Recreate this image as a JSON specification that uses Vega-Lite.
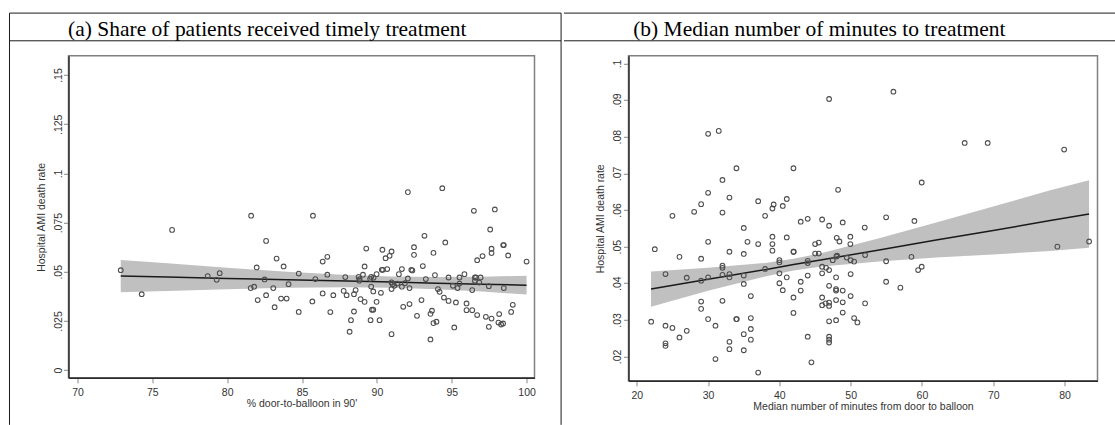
{
  "$schema": "https://vega.github.io/schema/vega-lite/v6.json",
  "background": "white",
  "padding": {"left": 7.5, "top": 11.8, "right": 0, "bottom": 0},
  "spacing": 0,
  "datasets": {
    "ptsA": [
      {"x":72.89,"y":0.0508},{"x":74.29,"y":0.0386},{"x":76.32,"y":0.0713},{"x":78.70,"y":0.0478},{"x":79.30,"y":0.0459},
      {"x":79.50,"y":0.0493},{"x":81.57,"y":0.0417},{"x":81.80,"y":0.0424},{"x":81.60,"y":0.0785},{"x":81.97,"y":0.0522},
      {"x":82.04,"y":0.0356},{"x":82.50,"y":0.0461},{"x":82.60,"y":0.0381},{"x":82.60,"y":0.0657},{"x":83.08,"y":0.0417},
      {"x":83.17,"y":0.0320},{"x":83.30,"y":0.0567},{"x":83.77,"y":0.0527},{"x":83.60,"y":0.0364},{"x":83.97,"y":0.0364},
      {"x":84.10,"y":0.0437},{"x":84.78,"y":0.0491},{"x":84.78,"y":0.0296},{"x":85.69,"y":0.0349},{"x":85.73,"y":0.0785},
      {"x":85.89,"y":0.0463},{"x":86.38,"y":0.0552},{"x":86.69,"y":0.0576},{"x":86.38,"y":0.0390},{"x":86.69,"y":0.0485},
      {"x":86.89,"y":0.0295},{"x":87.09,"y":0.0381},{"x":87.78,"y":0.0403},{"x":87.89,"y":0.0473},{"x":87.98,"y":0.0381},
      {"x":88.47,"y":0.0386},{"x":88.58,"y":0.0407},{"x":88.47,"y":0.0298},{"x":88.27,"y":0.0254},{"x":88.18,"y":0.0195},
      {"x":88.78,"y":0.0474},{"x":88.85,"y":0.0462},{"x":88.82,"y":0.0455},{"x":89.07,"y":0.0485},{"x":89.18,"y":0.0527},
      {"x":89.29,"y":0.0618},{"x":88.91,"y":0.0361},{"x":89.18,"y":0.0347},{"x":89.62,"y":0.0474},{"x":89.55,"y":0.0464},
      {"x":89.78,"y":0.0470},{"x":89.62,"y":0.0425},{"x":89.76,"y":0.0400},{"x":89.67,"y":0.0307},{"x":89.76,"y":0.0307},
      {"x":89.58,"y":0.0254},{"x":89.98,"y":0.0488},{"x":89.98,"y":0.0347},{"x":90.18,"y":0.0254},{"x":90.27,"y":0.0393},
      {"x":90.37,"y":0.0612},{"x":90.33,"y":0.0510},{"x":90.40,"y":0.0510},{"x":90.58,"y":0.0569},{"x":90.69,"y":0.0514},
      {"x":90.85,"y":0.0581},{"x":90.98,"y":0.0603},{"x":90.98,"y":0.0446},{"x":91.05,"y":0.0437},{"x":90.98,"y":0.0412},
      {"x":91.16,"y":0.0429},{"x":90.98,"y":0.0183},{"x":91.36,"y":0.0440},{"x":91.47,"y":0.0488},{"x":91.67,"y":0.0514},
      {"x":91.67,"y":0.0424},{"x":91.76,"y":0.0322},{"x":91.87,"y":0.0442},{"x":92.07,"y":0.0466},{"x":92.07,"y":0.0905},
      {"x":92.18,"y":0.0417},{"x":92.18,"y":0.0336},{"x":92.30,"y":0.0510},{"x":92.37,"y":0.0507},{"x":92.48,"y":0.0586},
      {"x":92.48,"y":0.0625},{"x":92.68,"y":0.0276},{"x":92.98,"y":0.0356},{"x":93.07,"y":0.0529},{"x":93.18,"y":0.0683},
      {"x":93.27,"y":0.0463},{"x":93.58,"y":0.0286},{"x":93.68,"y":0.0302},{"x":93.58,"y":0.0156},{"x":93.78,"y":0.0596},
      {"x":93.88,"y":0.0483},{"x":93.78,"y":0.0239},{"x":93.98,"y":0.0246},{"x":94.08,"y":0.0412},{"x":94.19,"y":0.0398},
      {"x":94.37,"y":0.0925},{"x":94.57,"y":0.0649},{"x":94.48,"y":0.0369},{"x":94.79,"y":0.0471},{"x":94.79,"y":0.0352},
      {"x":95.08,"y":0.0429},{"x":95.28,"y":0.0344},{"x":95.17,"y":0.0217},{"x":95.39,"y":0.0417},{"x":95.52,"y":0.0471},
      {"x":95.52,"y":0.0440},{"x":95.85,"y":0.0488},{"x":95.99,"y":0.0339},{"x":95.99,"y":0.0305},{"x":96.37,"y":0.0407},
      {"x":96.37,"y":0.0305},{"x":96.70,"y":0.0280},{"x":96.48,"y":0.0810},{"x":96.55,"y":0.0471},{"x":96.62,"y":0.0471},
      {"x":96.93,"y":0.0471},{"x":96.55,"y":0.0454},{"x":96.84,"y":0.0445},{"x":96.70,"y":0.0559},{"x":97.06,"y":0.0580},
      {"x":97.28,"y":0.0271},{"x":97.48,"y":0.0220},{"x":97.48,"y":0.0427},{"x":97.66,"y":0.0262},{"x":97.66,"y":0.0617},
      {"x":97.66,"y":0.0595},{"x":97.57,"y":0.0715},{"x":97.88,"y":0.0817},{"x":98.17,"y":0.0285},{"x":98.12,"y":0.0242},
      {"x":98.43,"y":0.0237},{"x":98.30,"y":0.0232},{"x":98.48,"y":0.0417},{"x":98.48,"y":0.0636},{"x":98.44,"y":0.0636},
      {"x":98.77,"y":0.0583},{"x":98.97,"y":0.0296},{"x":99.08,"y":0.0332},{"x":100.0,"y":0.0552}
    ],
    "bandA": [
      {"x":72.89,"fit":0.0478,"lo":0.0396,"hi":0.0560},
      {"x":76,"fit":0.04729,"lo":0.04029,"hi":0.05429},
      {"x":80,"fit":0.04661,"lo":0.04114,"hi":0.05208},
      {"x":84,"fit":0.04593,"lo":0.04183,"hi":0.05003},
      {"x":88,"fit":0.04525,"lo":0.04217,"hi":0.04833},
      {"x":91,"fit":0.04474,"lo":0.04194,"hi":0.04754},
      {"x":94,"fit":0.04423,"lo":0.04115,"hi":0.04731},
      {"x":97,"fit":0.04372,"lo":0.03992,"hi":0.04752},
      {"x":100,"fit":0.0432,"lo":0.03844,"hi":0.04796}
    ],
    "ptsB": [
      {"x":22.02,"y":0.0295},{"x":22.53,"y":0.0493},{"x":24.03,"y":0.0425},{"x":24.03,"y":0.0284},{"x":24.03,"y":0.0236},
      {"x":24.03,"y":0.0229},{"x":25.00,"y":0.0584},{"x":25.00,"y":0.0278},{"x":25.99,"y":0.0252},{"x":25.99,"y":0.0472},
      {"x":27.01,"y":0.0415},{"x":27.01,"y":0.0270},{"x":28.05,"y":0.0595},{"x":29.03,"y":0.0616},{"x":29.03,"y":0.0467},
      {"x":29.03,"y":0.0407},{"x":29.03,"y":0.0350},{"x":29.03,"y":0.0330},{"x":30.01,"y":0.0647},{"x":30.01,"y":0.0808},
      {"x":30.01,"y":0.0513},{"x":30.01,"y":0.0416},{"x":30.01,"y":0.0302},{"x":31.04,"y":0.0284},{"x":31.04,"y":0.0193},
      {"x":31.50,"y":0.0816},{"x":32.02,"y":0.0682},{"x":32.02,"y":0.0593},{"x":32.02,"y":0.0448},{"x":32.02,"y":0.0442},
      {"x":32.02,"y":0.0423},{"x":32.02,"y":0.0352},{"x":33.00,"y":0.0634},{"x":33.00,"y":0.0486},{"x":33.00,"y":0.0425},
      {"x":33.00,"y":0.0416},{"x":33.00,"y":0.0240},{"x":33.00,"y":0.0220},{"x":33.98,"y":0.0714},{"x":34.03,"y":0.0302},
      {"x":33.95,"y":0.0302},{"x":35.01,"y":0.0551},{"x":35.01,"y":0.0480},{"x":35.01,"y":0.0421},{"x":35.01,"y":0.0398},
      {"x":35.01,"y":0.0261},{"x":35.01,"y":0.0217},{"x":35.53,"y":0.0513},{"x":36.00,"y":0.0365},{"x":36.00,"y":0.0305},
      {"x":36.00,"y":0.0275},{"x":36.00,"y":0.0246},{"x":37.03,"y":0.0624},{"x":37.03,"y":0.0507},{"x":37.03,"y":0.0156},
      {"x":38.00,"y":0.0584},{"x":38.00,"y":0.0439},{"x":39.03,"y":0.0604},{"x":39.20,"y":0.0615},{"x":39.03,"y":0.0527},
      {"x":39.03,"y":0.0507},{"x":39.03,"y":0.0489},{"x":40.01,"y":0.0463},{"x":40.01,"y":0.0457},{"x":40.01,"y":0.0427},
      {"x":40.01,"y":0.0400},{"x":40.48,"y":0.0611},{"x":40.48,"y":0.0381},{"x":41.04,"y":0.0630},{"x":41.04,"y":0.0525},
      {"x":41.04,"y":0.0416},{"x":41.98,"y":0.0714},{"x":41.98,"y":0.0486},{"x":42.02,"y":0.0486},{"x":41.98,"y":0.0361},
      {"x":41.98,"y":0.0319},{"x":43.00,"y":0.0568},{"x":43.00,"y":0.0404},{"x":43.00,"y":0.0380},{"x":43.98,"y":0.0576},
      {"x":43.98,"y":0.0461},{"x":43.98,"y":0.0455},{"x":43.98,"y":0.0421},{"x":43.98,"y":0.0254},{"x":44.50,"y":0.0184},
      {"x":45.02,"y":0.0507},{"x":45.53,"y":0.0511},{"x":45.02,"y":0.0481},{"x":45.53,"y":0.0481},{"x":46.00,"y":0.0574},
      {"x":46.00,"y":0.0445},{"x":46.00,"y":0.0427},{"x":46.00,"y":0.0361},{"x":46.00,"y":0.0340},{"x":46.50,"y":0.0345},
      {"x":46.98,"y":0.0347},{"x":46.98,"y":0.0338},{"x":46.56,"y":0.0442},{"x":46.98,"y":0.0436},{"x":46.98,"y":0.0393},
      {"x":46.98,"y":0.0296},{"x":46.98,"y":0.0254},{"x":46.98,"y":0.0246},{"x":46.98,"y":0.0238},{"x":46.98,"y":0.0557},
      {"x":46.98,"y":0.0903},{"x":47.49,"y":0.0463},{"x":48.05,"y":0.0524},{"x":48.43,"y":0.0514},{"x":48.00,"y":0.0473},
      {"x":48.10,"y":0.0475},{"x":47.96,"y":0.0416},{"x":47.96,"y":0.0384},{"x":47.96,"y":0.0380},{"x":47.96,"y":0.0354},
      {"x":47.96,"y":0.0299},{"x":48.24,"y":0.0655},{"x":48.89,"y":0.0566},{"x":48.89,"y":0.0380},{"x":48.89,"y":0.0348},
      {"x":48.89,"y":0.0320},{"x":49.96,"y":0.0527},{"x":49.96,"y":0.0507},{"x":49.45,"y":0.0470},{"x":50.00,"y":0.0463},
      {"x":50.49,"y":0.0459},{"x":50.00,"y":0.0425},{"x":50.00,"y":0.0365},{"x":50.49,"y":0.0305},{"x":50.95,"y":0.0293},
      {"x":52.03,"y":0.0477},{"x":52.03,"y":0.0345},{"x":51.98,"y":0.0552},{"x":54.98,"y":0.0460},{"x":54.98,"y":0.0404},
      {"x":54.98,"y":0.0580},{"x":56.00,"y":0.0923},{"x":56.98,"y":0.0388},{"x":58.53,"y":0.0472},{"x":58.95,"y":0.0570},
      {"x":59.47,"y":0.0436},{"x":59.97,"y":0.0445},{"x":59.97,"y":0.0675},{"x":66.00,"y":0.0783},{"x":69.23,"y":0.0783},
      {"x":79.00,"y":0.0500},{"x":79.95,"y":0.0765},{"x":83.45,"y":0.0514}
    ],
    "bandB": [
      {"x":22,"fit":0.0384,"lo":0.0336,"hi":0.0432},
      {"x":30,"fit":0.0411,"lo":0.03795,"hi":0.04425},
      {"x":38,"fit":0.0437,"lo":0.04186,"hi":0.04554},
      {"x":42,"fit":0.0451,"lo":0.0435,"hi":0.0467},
      {"x":46,"fit":0.0464,"lo":0.04456,"hi":0.04824},
      {"x":54,"fit":0.0491,"lo":0.04595,"hi":0.05225},
      {"x":62,"fit":0.0518,"lo":0.0470,"hi":0.0566},
      {"x":70,"fit":0.0544,"lo":0.04787,"hi":0.06093},
      {"x":78,"fit":0.0571,"lo":0.04881,"hi":0.06539},
      {"x":83.45,"fit":0.0589,"lo":0.0497,"hi":0.0681}
    ]
  },
  "hconcat": [
    {
      "width": 466,
      "height": 322,
      "layer": [
        {
          "data": {"name": "bandA"},
          "mark": {"type": "area", "color": "#c0c0c0", "opacity": 1},
          "encoding": {
            "x": {"field": "x", "type": "quantitative", "scale": {"domain": [69.4, 100.53], "nice": false, "zero": false},
                  "axis": {"title": "% door-to-balloon in 90'", "values": [70, 75, 80, 85, 90, 95, 100], "labelPadding": 5, "titlePadding": 0}},
            "y": {"field": "lo", "type": "quantitative", "scale": {"domain": [-0.0039, 0.1598], "nice": false, "zero": false},
                  "axis": {"title": "Hospital AMI death rate", "values": [0, 0.025, 0.05, 0.075, 0.1, 0.125, 0.15],
                           "labelExpr": "replace(format(datum.value, '~g'), '0.', '.')",
                           "labelAngle": -90, "labelAlign": "center", "labelBaseline": "alphabetic", "labelPadding": 2, "titlePadding": 7}},
            "y2": {"field": "hi"}
          }
        },
        {
          "data": {"name": "bandA"},
          "mark": {"type": "line", "color": "#1a1a1a", "strokeWidth": 1.5},
          "encoding": {
            "x": {"field": "x", "type": "quantitative", "scale": {"domain": [69.4, 100.53], "nice": false, "zero": false}},
            "y": {"field": "fit", "type": "quantitative", "scale": {"domain": [-0.0039, 0.1598], "nice": false, "zero": false}}
          }
        },
        {
          "data": {"name": "ptsA"},
          "mark": {"type": "point", "shape": "circle", "filled": false, "stroke": "#4d4d4d", "strokeWidth": 1.1, "size": 22, "opacity": 1},
          "encoding": {
            "x": {"field": "x", "type": "quantitative", "scale": {"domain": [69.4, 100.53], "nice": false, "zero": false}},
            "y": {"field": "y", "type": "quantitative", "scale": {"domain": [-0.0039, 0.1598], "nice": false, "zero": false}}
          }
        },
        {
          "data": {"values": [{}]},
          "mark": {"type": "text", "font": "Liberation Serif", "fontSize": 21.5, "align": "center", "baseline": "alphabetic", "color": "#000000"},
          "encoding": {
            "x": {"datum": 82.683, "type": "quantitative", "scale": {"domain": [69.4, 100.53], "nice": false, "zero": false}},
            "y": {"datum": 0.17007, "type": "quantitative", "scale": {"domain": [-0.0039, 0.1598], "nice": false, "zero": false}},
            "text": {"value": "(a) Share of patients received timely treatment"}
          }
        },
        {
          "data": {"values": [{}]},
          "mark": {"type": "rule", "color": "#1a1a1a", "strokeWidth": 1},
          "encoding": {
            "x": {"datum": 65.458, "type": "quantitative", "scale": {"domain": [69.4, 100.53], "nice": false, "zero": false}},
            "x2": {"datum": 102.306},
            "y": {"datum": 0.18151, "type": "quantitative", "scale": {"domain": [-0.0039, 0.1598], "nice": false, "zero": false}}
          }
        },
        {
          "data": {"values": [{}]},
          "mark": {"type": "rule", "color": "#1a1a1a", "strokeWidth": 1},
          "encoding": {
            "x": {"datum": 65.458, "type": "quantitative", "scale": {"domain": [69.4, 100.53], "nice": false, "zero": false}},
            "x2": {"datum": 102.306},
            "y": {"datum": 0.16743, "type": "quantitative", "scale": {"domain": [-0.0039, 0.1598], "nice": false, "zero": false}}
          }
        },
        {
          "data": {"values": [{}]},
          "mark": {"type": "rule", "color": "#1a1a1a", "strokeWidth": 1},
          "encoding": {
            "x": {"datum": 65.458, "type": "quantitative", "scale": {"domain": [69.4, 100.53], "nice": false, "zero": false}},
            "y": {"datum": 0.18151, "type": "quantitative", "scale": {"domain": [-0.0039, 0.1598], "nice": false, "zero": false}},
            "y2": {"datum": -0.02782}
          }
        },
        {
          "data": {"values": [{}]},
          "mark": {"type": "rule", "color": "#1a1a1a", "strokeWidth": 1},
          "encoding": {
            "x": {"datum": 102.306, "type": "quantitative", "scale": {"domain": [69.4, 100.53], "nice": false, "zero": false}},
            "y": {"datum": 0.18151, "type": "quantitative", "scale": {"domain": [-0.0039, 0.1598], "nice": false, "zero": false}},
            "y2": {"datum": -0.02782}
          }
        }
      ]
    },
    {
      "width": 469,
      "height": 325,
      "layer": [
        {
          "data": {"name": "bandB"},
          "mark": {"type": "area", "color": "#c0c0c0", "opacity": 1},
          "encoding": {
            "x": {"field": "x", "type": "quantitative", "scale": {"domain": [18.84, 84.63], "nice": false, "zero": false},
                  "axis": {"title": "Median number of minutes from door to balloon", "values": [20, 30, 40, 50, 60, 70, 80], "labelPadding": 5, "titlePadding": 0}},
            "y": {"field": "lo", "type": "quantitative", "scale": {"domain": [0.01336, 0.1021], "nice": false, "zero": false},
                  "axis": {"title": "Hospital AMI death rate", "values": [0.02, 0.03, 0.04, 0.05, 0.06, 0.07, 0.08, 0.09, 0.1],
                           "labelExpr": "replace(format(datum.value, '~g'), '0.', '.')",
                           "labelAngle": -90, "labelAlign": "center", "labelBaseline": "alphabetic", "labelPadding": 3, "titlePadding": 7}},
            "y2": {"field": "hi"}
          }
        },
        {
          "data": {"name": "bandB"},
          "mark": {"type": "line", "color": "#1a1a1a", "strokeWidth": 1.5},
          "encoding": {
            "x": {"field": "x", "type": "quantitative", "scale": {"domain": [18.84, 84.63], "nice": false, "zero": false}},
            "y": {"field": "fit", "type": "quantitative", "scale": {"domain": [0.01336, 0.1021], "nice": false, "zero": false}}
          }
        },
        {
          "data": {"name": "ptsB"},
          "mark": {"type": "point", "shape": "circle", "filled": false, "stroke": "#4d4d4d", "strokeWidth": 1.1, "size": 22, "opacity": 1},
          "encoding": {
            "x": {"field": "x", "type": "quantitative", "scale": {"domain": [18.84, 84.63], "nice": false, "zero": false}},
            "y": {"field": "y", "type": "quantitative", "scale": {"domain": [0.01336, 0.1021], "nice": false, "zero": false}}
          }
        },
        {
          "data": {"values": [{}]},
          "mark": {"type": "text", "font": "Liberation Serif", "fontSize": 21.5, "align": "center", "baseline": "alphabetic", "color": "#000000"},
          "encoding": {
            "x": {"datum": 45.608, "type": "quantitative", "scale": {"domain": [18.84, 84.63], "nice": false, "zero": false}},
            "y": {"datum": 0.10762, "type": "quantitative", "scale": {"domain": [0.01336, 0.1021], "nice": false, "zero": false}},
            "text": {"value": "(b) Median number of minutes to treatment"}
          }
        },
        {
          "data": {"values": [{}]},
          "mark": {"type": "rule", "color": "#1a1a1a", "strokeWidth": 1},
          "encoding": {
            "x": {"datum": 9.791, "type": "quantitative", "scale": {"domain": [18.84, 84.63], "nice": false, "zero": false}},
            "x2": {"datum": 87.44},
            "y": {"datum": 0.11376, "type": "quantitative", "scale": {"domain": [0.01336, 0.1021], "nice": false, "zero": false}}
          }
        },
        {
          "data": {"values": [{}]},
          "mark": {"type": "rule", "color": "#1a1a1a", "strokeWidth": 1},
          "encoding": {
            "x": {"datum": 9.791, "type": "quantitative", "scale": {"domain": [18.84, 84.63], "nice": false, "zero": false}},
            "x2": {"datum": 87.44},
            "y": {"datum": 0.10620, "type": "quantitative", "scale": {"domain": [0.01336, 0.1021], "nice": false, "zero": false}}
          }
        }
      ]
    }
  ],
  "config": {
    "view": {"stroke": "#808080", "strokeWidth": 1.5},
    "axis": {
      "grid": false,
      "domainColor": "#2b2b2b",
      "domainWidth": 1.5,
      "tickColor": "#888888",
      "tickSize": 5,
      "labelFont": "Liberation Sans",
      "labelFontSize": 10.5,
      "labelColor": "#333333",
      "titleFont": "Liberation Sans",
      "titleFontSize": 10.5,
      "titleFontWeight": "normal",
      "titleColor": "#333333"
    }
  }
}
